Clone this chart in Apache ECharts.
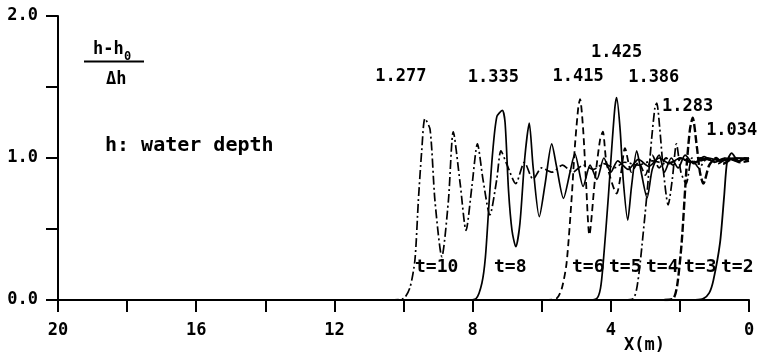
<!DOCTYPE html>
<html>
<head>
<meta charset="utf-8">
<script src="https://cdn.jsdelivr.net/npm/echarts@6/dist/echarts.min.js"></script>
<style>
  html, body { margin: 0; padding: 0; background: #fff; }
  #chart { width: 760px; height: 356px; }
</style>
</head>
<body>
<div id="chart"></div>
<script>
// Surface profiles of an undular bore, (h - h0)/Δh against distance X (m)
const t10X = [10.4,10.0,9.81,9.67,9.57,9.47,9.38,9.23,9.09,8.89,8.70,8.56,8.36,8.19,8.02,7.86,7.7,7.5,7.3,7.18,7.0,6.75,6.5,6.25,6.0,5.7,5.4,5.1,4.8,4.5,4.2,3.9,3.6,3.2,2.8,2.4,2.0,1.6,1.2,0.8,0.4,0];
const t10Y = [0,0.01,0.09,0.28,0.70,1.06,1.277,1.2,0.70,0.305,0.70,1.185,0.82,0.49,0.8,1.10,0.85,0.60,0.85,1.05,0.95,0.82,0.97,0.85,0.93,0.90,0.95,0.9,0.95,0.92,0.96,0.93,0.97,0.95,0.98,0.96,0.99,0.97,0.99,0.98,1.0,0.99];

const t8X = [8.2,7.9,7.73,7.63,7.53,7.43,7.3,7.14,7.06,6.96,6.86,6.75,6.63,6.49,6.36,6.25,6.07,5.9,5.71,5.57,5.37,5.18,5.04,4.8,4.6,4.4,4.2,4.0,3.8,3.5,3.2,2.9,2.6,2.3,2.0,1.6,1.2,0.8,0.4,0];
const t8Y = [0,0.01,0.12,0.30,0.66,1.01,1.29,1.335,1.25,0.77,0.49,0.375,0.54,1.0,1.245,0.94,0.587,0.82,1.10,0.94,0.716,0.9,1.03,0.80,0.95,0.85,1.0,0.9,0.98,0.92,0.99,0.94,1.0,0.96,1.0,0.97,1.0,0.98,1.0,1.0];

const t6X = [5.9,5.57,5.42,5.28,5.13,5.04,4.94,4.89,4.80,4.72,4.62,4.46,4.31,4.23,4.12,3.83,3.7,3.59,3.4,3.2,3.0,2.8,2.6,2.4,2.2,2.0,1.7,1.4,1.0,0.6,0.3,0];
const t6Y = [0,0.01,0.08,0.26,0.73,1.08,1.36,1.415,1.2,0.845,0.458,0.845,1.13,1.185,0.96,0.75,0.9,1.07,0.9,0.97,0.88,1.02,0.93,1.0,0.95,1.0,0.97,1.0,0.98,1.0,0.99,1.0];

const t5X = [4.7,4.41,4.3,4.22,4.07,3.97,3.88,3.83,3.73,3.64,3.51,3.4,3.25,3.12,2.95,2.8,2.6,2.45,2.25,2.05,1.85,1.6,1.3,1.0,0.7,0.35,0];
const t5Y = [0,0.01,0.08,0.26,0.73,1.08,1.36,1.425,1.2,0.845,0.563,0.8,1.05,0.9,0.72,0.92,1.02,0.9,1.0,0.93,1.02,0.96,1.01,0.97,1.0,0.98,1.0];

const t4X = [3.6,3.35,3.25,3.15,2.96,2.82,2.72,2.67,2.58,2.48,2.34,2.22,2.1,1.97,1.82,1.65,1.45,1.2,0.9,0.6,0.3,0];
const t4Y = [0,0.01,0.08,0.26,0.73,1.13,1.36,1.386,1.2,0.915,0.67,0.85,1.1,0.9,0.82,1.0,0.93,1.0,0.96,1.0,0.98,0.99];

const t3X = [2.45,2.19,2.08,1.95,1.8,1.71,1.63,1.51,1.42,1.32,1.15,0.95,0.75,0.5,0.25,0];
const t3Y = [0,0.01,0.1,0.4,0.96,1.2,1.283,1.08,0.9,0.82,0.95,1.0,0.96,0.99,0.97,0.98];

const t2X = [1.55,1.32,1.15,1.03,0.84,0.72,0.63,0.5,0.36,0.26,0.12,0];
const t2Y = [0,0.01,0.05,0.14,0.4,0.73,0.98,1.034,0.99,0.98,1.0,0.99];

// first-crest heights written above each profile
const peakX   = [9.38, 7.14, 4.89, 3.83, 2.67, 1.63, 0.5];
const peakVal = [1.277, 1.335, 1.415, 1.425, 1.386, 1.283, 1.034];

// axis ticks
const xTicks = [0, 4, 8, 12, 16, 20];
const yTicks = [0, 1, 2];

const FONT = 'DejaVu Sans Mono';
const INK = '#000';

const zip = (xs, ys) => xs.map((x, i) => [x, ys[i]]);

const DASH_DOT = [9, 3, 2, 3];
const DASH = [7, 4];

function profile(name, xs, ys, type, width) {
  return {
    name: name,
    type: 'line',
    data: zip(xs, ys),
    showSymbol: false,
    symbol: 'none',
    smooth: 0.25,
    lineStyle: { color: INK, width: width || 1.7, type: type },
    silent: true,
    z: 3
  };
}

// label offsets (pixels) from each crest
const peakOffsets = [[-24, -42], [-9, -33], [-2, -22], [0, -45], [-3, -26], [-5, -11], [0, -23]];

const txt = (text, left, top, size) => ({
  type: 'text', left: left, top: top,
  style: { text: text, font: 'bold ' + size + 'px ' + FONT, fill: INK }
});

const chart = echarts.init(document.getElementById('chart'), null, { renderer: 'canvas' });

chart.setOption({
  animation: false,
  backgroundColor: '#fff',
  grid: { left: 58, right: 11, top: 16, bottom: 56, containLabel: false },
  xAxis: {
    type: 'value',
    min: 0, max: 20, interval: 2,
    inverse: true,
    axisLine: { show: true, onZero: false, lineStyle: { color: INK, width: 2 } },
    axisTick: { show: true, length: 12, lineStyle: { color: INK, width: 2 } },
    axisLabel: {
      margin: 22,
      color: INK, fontFamily: FONT, fontSize: 17, fontWeight: 'bold',
      showMinLabel: true, showMaxLabel: true,
      formatter: v => xTicks.includes(v) ? String(v) : ''
    },
    splitLine: { show: false }
  },
  yAxis: {
    type: 'value',
    min: 0, max: 2, interval: 0.5,
    axisLine: { show: true, onZero: false, lineStyle: { color: INK, width: 2 } },
    axisTick: { show: true, length: 12, lineStyle: { color: INK, width: 2 } },
    axisLabel: {
      margin: 20,
      color: INK, fontFamily: FONT, fontSize: 17, fontWeight: 'bold',
      formatter: v => yTicks.includes(v) ? v.toFixed(1) : ''
    },
    splitLine: { show: false }
  },
  series: [
    profile('t=10', t10X, t10Y, DASH_DOT, 1.7),
    profile('t=8',  t8X,  t8Y,  'solid', 1.7),
    profile('t=6',  t6X,  t6Y,  DASH, 1.8),
    profile('t=5',  t5X,  t5Y,  'solid', 1.7),
    profile('t=4',  t4X,  t4Y,  DASH_DOT, 1.7),
    profile('t=3',  t3X,  t3Y,  [8, 3], 2.4),
    profile('t=2',  t2X,  t2Y,  'solid', 1.8),
    {
      name: 'crest',
      type: 'scatter',
      symbolSize: 0,
      silent: true,
      z: 5,
      itemStyle: { opacity: 1, color: INK },
      data: peakX.map((x, i) => ({
        value: [x, peakVal[i]],
        label: { offset: peakOffsets[i] }
      })),
      label: {
        show: true,
        position: 'inside',
        color: INK,
        textBorderWidth: 0,
        textBorderColor: 'transparent',
        fontFamily: FONT,
        fontWeight: 'bold',
        fontSize: 17,
        formatter: p => p.value[1].toFixed(3)
      }
    }
  ],
  graphic: [
    // ordinate: (h - h0) / Δh
    txt('h-h', 93, 41, 17),
    txt('0', 124, 51, 12),
    { type: 'line', shape: { x1: 84, y1: 61.5, x2: 144, y2: 61.5 }, style: { stroke: INK, lineWidth: 2 } },
    txt('Δh', 106, 71, 17),
    txt('h: water depth', 105, 136, 20),
    // abscissa title
    txt('X(m)', 624, 337, 17),
    // time tags next to each front
    txt('t=10', 415, 258, 18),
    txt('t=8', 494, 258, 18),
    txt('t=6', 572, 258, 18),
    txt('t=5', 609, 258, 18),
    txt('t=4', 646, 258, 18),
    txt('t=3', 684, 258, 18),
    txt('t=2', 721, 258, 18)
  ]
});
</script>
</body>
</html>
